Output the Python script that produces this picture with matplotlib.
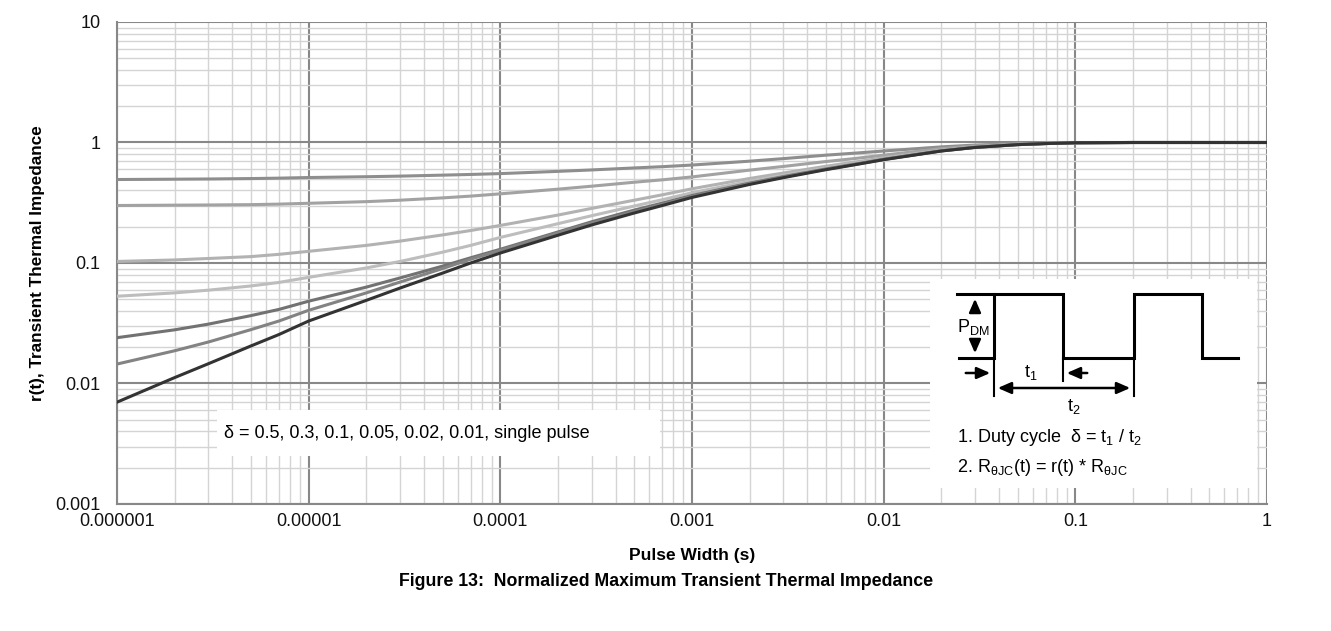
import matplotlib
matplotlib.use('Agg')
import matplotlib.pyplot as plt
from matplotlib.ticker import LogLocator, FixedLocator, FixedFormatter, NullFormatter

plt.rcParams['font.family'] = ['Liberation Sans', 'DejaVu Sans']

# pulse width (s)
pulse = [1e-6, 2e-6, 3e-6, 5e-6, 7e-6,
         1e-5, 2e-5, 3e-5, 5e-5, 7e-5,
         1e-4, 2e-4, 3e-4, 5e-4, 7e-4,
         1e-3, 2e-3, 3e-3, 5e-3, 7e-3,
         1e-2, 2e-2, 3e-2, 5e-2, 7e-2,
         1e-1, 2e-1, 3e-1, 5e-1, 7e-1, 1.0]

# r(t)
r_d050 = [0.493, 0.496, 0.498, 0.502, 0.506,
          0.512, 0.520, 0.526, 0.536, 0.543,
          0.552, 0.576, 0.592, 0.615, 0.630,
          0.650, 0.700, 0.735, 0.785, 0.815,
          0.850, 0.920, 0.952, 0.978, 0.989,
          0.997, 1.0, 1.0, 1.0, 1.0, 1.0]
r_d030 = [0.300, 0.302, 0.303, 0.305, 0.308,
          0.313, 0.323, 0.332, 0.347, 0.359,
          0.375, 0.410, 0.434, 0.468, 0.490,
          0.518, 0.590, 0.633, 0.695, 0.735,
          0.785, 0.890, 0.936, 0.972, 0.986,
          0.997, 1.0, 1.0, 1.0, 1.0, 1.0]
r_d010 = [0.103, 0.106, 0.109, 0.113, 0.118,
          0.125, 0.140, 0.152, 0.171, 0.186,
          0.205, 0.250, 0.284, 0.332, 0.368,
          0.413, 0.503, 0.558, 0.635, 0.686,
          0.748, 0.865, 0.919, 0.964, 0.982,
          0.996, 1.0, 1.0, 1.0, 1.0, 1.0]
r_d005 = [0.053, 0.0565, 0.0595, 0.0645, 0.069,
          0.076, 0.091, 0.103, 0.123, 0.140,
          0.163, 0.212, 0.247, 0.297, 0.335,
          0.383, 0.477, 0.535, 0.615, 0.669,
          0.734, 0.858, 0.915, 0.962, 0.981,
          0.995, 1.0, 1.0, 1.0, 1.0, 1.0]
r_d002 = [0.0240, 0.0279, 0.0311, 0.0366, 0.0412,
          0.0482, 0.0631, 0.0752, 0.0942, 0.1105,
          0.130, 0.181, 0.220, 0.275, 0.314,
          0.363, 0.460, 0.521, 0.603, 0.659,
          0.726, 0.853, 0.912, 0.961, 0.980,
          0.995, 1.0, 1.0, 1.0, 1.0, 1.0]
r_d001 = [0.0145, 0.0187, 0.0221, 0.0280, 0.0330,
          0.0405, 0.0565, 0.0695, 0.0900, 0.1075,
          0.1275, 0.178, 0.215, 0.267, 0.307,
          0.357, 0.455, 0.516, 0.599, 0.655,
          0.723, 0.852, 0.911, 0.960, 0.980,
          0.995, 1.0, 1.0, 1.0, 1.0, 1.0]
r_single = [0.0070, 0.0112, 0.0146, 0.0205, 0.0255,
            0.0330, 0.0490, 0.0620, 0.0825, 0.100,
            0.121, 0.170, 0.207, 0.260, 0.300,
            0.350, 0.449, 0.511, 0.595, 0.652,
            0.720, 0.850, 0.910, 0.960, 0.980,
            0.995, 1.0, 1.0, 1.0, 1.0, 1.0]

x_ticks = [1e-6, 1e-5, 1e-4, 1e-3, 1e-2, 1e-1, 1]
x_labels = ['0.000001', '0.00001', '0.0001', '0.001', '0.01', '0.1', '1']
y_ticks = [1e-3, 1e-2, 1e-1, 1, 10]
y_labels = ['0.001', '0.01', '0.1', '1', '10']

W, H = 1331, 631
fig = plt.figure(figsize=(W / 100, H / 100), dpi=100)
ax = fig.add_axes([117 / W, 1 - 504 / H, 1150 / W, 482 / H])

series = [(r_d050, '#8e8e8e'), (r_d030, '#a2a2a2'), (r_d010, '#b2b2b2'),
          (r_d005, '#bdbdbd'), (r_d002, '#727272'), (r_d001, '#838383'),
          (r_single, '#333333')]
for vals, col in series:
    ax.plot(pulse, vals, color=col, lw=2.2, zorder=3, solid_joinstyle='round')

ax.set_xscale('log')
ax.set_yscale('log')
ax.set_xlim(1e-6, 1)
ax.set_ylim(1e-3, 10)
ax.xaxis.set_major_locator(FixedLocator(x_ticks))
ax.xaxis.set_major_formatter(FixedFormatter(x_labels))
ax.yaxis.set_major_locator(FixedLocator(y_ticks))
ax.yaxis.set_major_formatter(FixedFormatter(y_labels))
ax.xaxis.set_minor_locator(LogLocator(base=10, subs=range(2, 10), numticks=20))
ax.yaxis.set_minor_locator(LogLocator(base=10, subs=range(2, 10), numticks=20))
ax.xaxis.set_minor_formatter(NullFormatter())
ax.yaxis.set_minor_formatter(NullFormatter())
ax.grid(which='major', color='#888888', lw=1.5, zorder=1)
ax.grid(which='minor', color='#d4d4d4', lw=1.0, zorder=0)
ax.tick_params(which='both', length=0, labelsize=13, colors='#111111')
ax.tick_params(axis='x', pad=6.5)
ax.tick_params(axis='y', pad=12)
for s in ['top', 'right']:
    ax.spines[s].set_visible(False)
for s in ['left', 'bottom']:
    ax.spines[s].set_color('#888888')
    ax.spines[s].set_linewidth(1.5)
ax.set_axisbelow(True)

ax.set_xlabel('Pulse Width (s)', fontsize=12.5, fontweight='bold', labelpad=13)
ax.set_ylabel('r(t), Transient Thermal Impedance', fontsize=12.3, fontweight='bold', labelpad=7)
fig.text(666 / W, 1 - 582 / H, 'Figure 13:  Normalized Maximum Transient Thermal Impedance',
         ha='center', va='center', fontsize=12.8, fontweight='bold')

# overlay in pixel coordinates for the note boxes
ov = fig.add_axes([0, 0, 1, 1])
ov.set_xlim(0, W)
ov.set_ylim(H, 0)
ov.axis('off')
ov.patch.set_alpha(0)

ov.add_patch(plt.Rectangle((217, 410), 443, 46, fc='white', ec='none'))
ov.text(224, 434, 'δ = 0.5, 0.3, 0.1, 0.05, 0.02, 0.01, single pulse',
        ha='left', va='center', fontsize=13)

ov.add_patch(plt.Rectangle((930, 279), 327, 209, fc='white', ec='none'))
wave_x = [959, 994, 994, 1063, 1063, 1134, 1134, 1202, 1202, 1238]
wave_y = [358, 358, 294, 294, 358, 358, 294, 294, 358, 358]
ov.plot(wave_x, wave_y, color='black', lw=2.2, solid_joinstyle='miter')
ov.plot([957, 994], [294, 294], color='black', lw=2.2)
# P_DM arrows
ap = dict(arrowstyle='-|>,head_width=0.35,head_length=0.8', color='black', lw=1.8)
ov.annotate('', xy=(975, 296), xytext=(975, 314), arrowprops=ap)
ov.annotate('', xy=(975, 356), xytext=(975, 338), arrowprops=ap)
ov.text(957, 327, r'P$_{\mathregular{DM}}$', ha='left', va='center', fontsize=13)
# t1
ov.plot([994, 994], [358, 396], color='black', lw=1.5)
ov.plot([1063, 1063], [358, 381], color='black', lw=1.5)
ov.plot([1134, 1134], [358, 396], color='black', lw=1.5)
ov.annotate('', xy=(993, 373), xytext=(963, 373), arrowprops=ap)
ov.annotate('', xy=(1064, 373), xytext=(1090, 373), arrowprops=ap)
ov.text(1031, 373, r't$_{\mathregular{1}}$', ha='center', va='center', fontsize=13)
# t2
ov.annotate('', xy=(995, 388), xytext=(1133, 388),
            arrowprops=dict(arrowstyle='<|-|>,head_width=0.35,head_length=0.8', color='black', lw=1.8))
ov.text(1074, 407, r't$_{\mathregular{2}}$', ha='center', va='center', fontsize=13)
ov.text(957, 437, r'1. Duty cycle  δ = t$_{\mathregular{1}}$ / t$_{\mathregular{2}}$',
        ha='left', va='center', fontsize=13)
ov.text(957, 467, r'2. R$_{\mathregular{θJC}}$(t) = r(t) * R$_{\mathregular{θJC}}$',
        ha='left', va='center', fontsize=13)

fig.savefig('out.png', dpi=100, facecolor='white')
